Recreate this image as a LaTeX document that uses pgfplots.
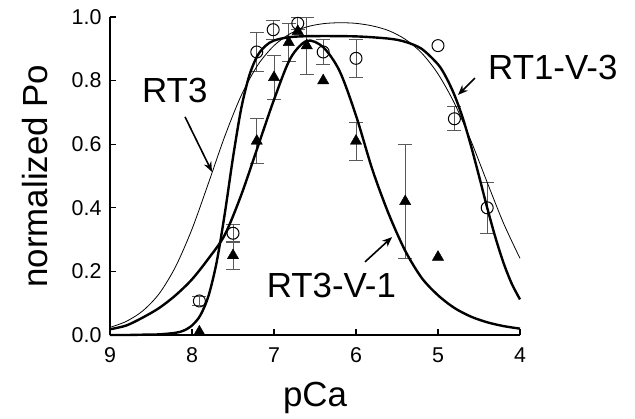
\documentclass[border=0pt]{standalone}
\usepackage{fontspec}
\setmainfont{Liberation Sans}
\usepackage{pgfplots}
\pgfplotsset{compat=1.18}
\usetikzlibrary{arrows.meta}
\begin{document}
\begin{tikzpicture}[x=1bp,y=1bp]
\path[use as bounding box] (-110,-83) rectangle (525,335);
\begin{axis}[
  at={(0,0)}, anchor=south west,
  scale only axis, width=410bp, height=318bp,
  xmin=4, xmax=9, ymin=0, ymax=1,
  x dir=reverse,
  axis x line*=bottom, axis y line*=left,
  axis line style={-, line width=2bp},
  xtick={4,5,6,7,8,9}, ytick={0,0.2,0.4,0.6,0.8,1.0},
  tick align=inside, major tick length=6bp,
  tick style={line width=1.2bp, black},
  /pgf/number format/assume math mode=true,
  ticklabel style={font=\fontsize{21.5}{24}\selectfont},
  xticklabel style={yshift=-9bp},
  yticklabel style={xshift=-5bp, /pgf/number format/.cd, fixed, fixed zerofill, precision=1},
  xlabel={pCa}, ylabel={normalized Po},
  label style={font=\fontsize{35}{40}\selectfont},
  xlabel style={at={(axis description cs:0.5,-0.198)}, anchor=center},
  ylabel style={at={(axis description cs:-0.183,0.5)}, anchor=center},
  clip=false,
]
% hidden-ish triangle behind circle
\addplot[only marks, mark=triangle*, mark size=6.5bp, mark options={black}]
coordinates { (6.71,0.955) };
% open circles with error bars
\addplot[only marks, mark=o, mark size=6bp, mark options={line width=1bp, black, fill=white},
  error bars/.cd, y dir=both, y explicit,
  error bar style={line width=0.8bp, black!65},
  error mark options={rotate=90, mark size=7bp, line width=0.8bp, black!65}]
coordinates {
 (7.91,0.107) +- (0,0.015)
 (7.50,0.320) +- (0,0.028)
 (7.21,0.890) +- (0,0.060)
 (7.01,0.960) +- (0,0.030)
 (6.71,0.980) +- (0,0.020)
 (6.40,0.890) +- (0,0.038)
 (6.00,0.870) +- (0,0.060)
 (4.80,0.680) +- (0,0.038)
 (4.40,0.400) +- (0,0.080)
};
\addplot[only marks, mark=o, mark size=6bp, mark options={line width=1bp, black, fill=white}]
coordinates { (5.00,0.910) };
% filled triangles with error bars
\addplot[only marks, mark=triangle*, mark size=6.5bp, mark options={black},
  error bars/.cd, y dir=both, y explicit,
  error bar style={line width=0.8bp, black!65},
  error mark options={rotate=90, mark size=7bp, line width=0.8bp, black!65}]
coordinates {
 (7.50,0.250) +- (0,0.045)
 (7.21,0.610) +- (0,0.070)
 (7.00,0.810) +- (0,0.070)
 (6.82,0.920) +- (0,0.060)
 (6.60,0.910) +- (0,0.090)
 (6.00,0.610) +- (0,0.060)
 (5.40,0.420) +- (0,0.180)
};
\addplot[only marks, mark=triangle*, mark size=6.5bp, mark options={black}]
coordinates { (7.91,0.010) (6.40,0.800) (5.00,0.245) };
% RT3 (thin)
\addplot[smooth, line width=0.8bp, black] coordinates {
 (9.0,0.024) (8.8,0.043) (8.6,0.076) (8.4,0.130) (8.2,0.215) (8.0,0.333)
 (7.8,0.477) (7.6,0.625) (7.4,0.753) (7.2,0.848) (7.0,0.910) (6.8,0.948)
 (6.6,0.969) (6.4,0.979) (6.2,0.982) (6.0,0.980) (5.8,0.972) (5.6,0.957)
 (5.4,0.930) (5.2,0.887) (5.0,0.821) (4.8,0.729) (4.6,0.612) (4.4,0.480)
 (4.2,0.351) (4.0,0.241)
};
% RT1-V-3 (thick)
\addplot[smooth, line width=2.4bp, black] coordinates {
 (9.0,0.0) (8.8,0.0) (8.6,0.001) (8.4,0.002) (8.2,0.007) (8.1,0.014)
 (8.0,0.030) (7.9,0.061) (7.8,0.122) (7.7,0.228) (7.6,0.382) (7.5,0.558)
 (7.4,0.712) (7.3,0.817) (7.2,0.879) (7.1,0.910) (7.0,0.926) (6.8,0.937)
 (6.5,0.940) (6.0,0.939) (5.6,0.932) (5.4,0.922) (5.2,0.900) (5.0,0.851)
 (4.9,0.810) (4.8,0.755) (4.7,0.684) (4.6,0.597) (4.5,0.500) (4.4,0.400)
 (4.3,0.307) (4.2,0.226) (4.1,0.161) (4.0,0.112)
};
% RT3-V-1 (thick)
\addplot[smooth, line width=2.4bp, black] coordinates {
 (9.0,0.018) (8.8,0.030) (8.6,0.055) (8.4,0.085) (8.2,0.125) (8.0,0.175)
 (7.8,0.240) (7.6,0.315) (7.4,0.440) (7.2,0.590) (7.0,0.740) (6.8,0.870)
 (6.6,0.925) (6.4,0.905) (6.2,0.830) (6.0,0.690) (5.8,0.520) (5.6,0.380)
 (5.4,0.265) (5.2,0.180) (5.0,0.125) (4.8,0.085) (4.6,0.058) (4.4,0.040)
 (4.2,0.028) (4.0,0.020)
};
% labels and arrows
\node[font=\fontsize{35}{40}\selectfont, inner sep=0pt] at (axis cs:8.21,0.77) {RT3};
\node[font=\fontsize{35}{40}\selectfont, inner sep=0pt, anchor=west] at (axis cs:4.39,0.84) {RT1-V-3};
\node[font=\fontsize{35}{40}\selectfont, inner sep=0pt] at (axis cs:6.30,0.157) {RT3-V-1};
\draw[-{Stealth[length=10bp,width=8bp]}, line width=1.6bp] (axis cs:8.085,0.686) -- (axis cs:7.756,0.513);
\draw[-{Stealth[length=10bp,width=8bp]}, line width=1.6bp] (axis cs:4.55,0.808) -- (axis cs:4.756,0.755);
\draw[-{Stealth[length=10bp,width=8bp]}, line width=1.6bp] (axis cs:5.89,0.23) -- (axis cs:5.56,0.308);
\end{axis}
\end{tikzpicture}
\end{document}
